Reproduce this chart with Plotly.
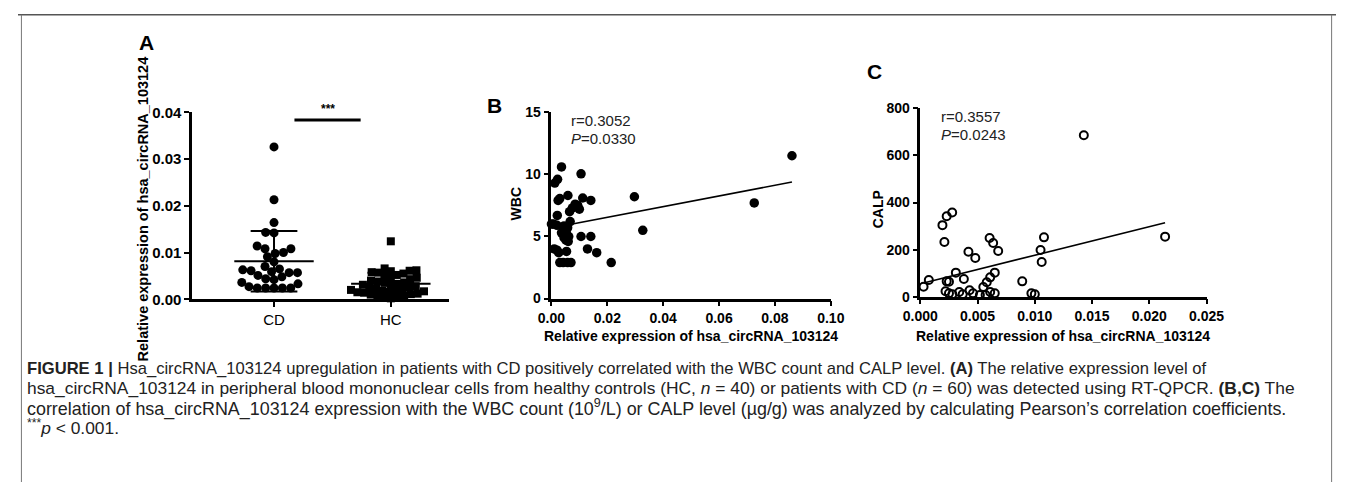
import numpy as np
import plotly.graph_objects as go

W, H = 1354, 490

# ---------------- data ----------------
group_labels = ["CD", "HC"]
cd_values = [0.0326, 0.0213, 0.0164, 0.0142, 0.0143, 0.0108, 0.0098, 0.0108, 0.0114,
             0.0091, 0.0100, 0.0080, 0.0070, 0.0063, 0.0059, 0.0057, 0.0051, 0.0057,
             0.0061, 0.0065, 0.0044, 0.0048, 0.0036, 0.0027, 0.0024, 0.0024, 0.0024,
             0.0024, 0.0024, 0.0033, 0.0042]
hc_values = [0.0124, 0.0066, 0.0062, 0.0061, 0.0060, 0.0058, 0.0057, 0.0055, 0.0052,
             0.0050, 0.0046, 0.0045, 0.0043, 0.0040, 0.0038, 0.0036, 0.0035, 0.0033,
             0.0031, 0.0030, 0.0028, 0.0026, 0.0025, 0.0023, 0.0022, 0.0020, 0.0019,
             0.0018, 0.0017, 0.0016, 0.0015, 0.0014, 0.0012, 0.0011, 0.0010, 0.0008,
             0.0007, 0.0005, 0.0004, 0.0002]

wbc_expr = [0.0036, 0.0012, 0.0022, 0.0106, 0.0059, 0.0024, 0.0030, 0.0112, 0.0141,
            0.0094, 0.0085, 0.0075, 0.0065, 0.0021, 0.0100, 0.0000, 0.0008, 0.0020,
            0.0045, 0.0067, 0.0058, 0.0048, 0.0036, 0.0054, 0.0106, 0.0141, 0.0045,
            0.0062, 0.0052, 0.0060, 0.0054, 0.0129, 0.0162, 0.0010, 0.0026, 0.0020,
            0.0214, 0.0030, 0.0042, 0.0058, 0.0070, 0.0297, 0.0327, 0.0726, 0.0861]
wbc_count = [10.6, 9.3, 9.6, 10.05, 8.3, 7.9, 8.05, 8.1, 7.9,
             7.5, 7.6, 7.3, 7.0, 6.7, 7.2, 6.0, 6.0, 5.9,
             5.85, 6.2, 5.7, 5.6, 5.3, 5.2, 5.0, 5.0, 4.9,
             5.0, 4.7, 4.6, 3.8, 4.0, 3.7, 4.0, 3.7, 3.9,
             2.9, 2.9, 2.9, 2.9, 2.9, 8.2, 5.5, 7.7, 11.5]
wbc_fit = {"slope": 43.0, "intercept": 5.68}
wbc_stats = ["r=0.3052", "<i>P</i>=0.0330"]

calp_expr = [0.01428, 0.00193, 0.0023, 0.00278, 0.0021, 0.00605, 0.00636, 0.0068,
             0.0042, 0.0048, 0.0108, 0.0105, 0.0106, 0.02138, 0.00074, 0.00028,
             0.0023, 0.0025, 0.0031, 0.0038, 0.0065, 0.0061, 0.0058, 0.0055, 0.0089,
             0.0022, 0.0025, 0.0034, 0.0043, 0.0046, 0.0052, 0.0057, 0.0061, 0.0065,
             0.0097, 0.0100, 0.0028, 0.0037]
calp_level = [686, 304, 342, 358, 232, 249, 228, 194,
              191, 164, 252, 198, 147, 255, 71, 42,
              65, 63, 102, 75, 102, 82, 61, 41, 65,
              23, 14, 20, 27, 14, 7, 7, 20, 14,
              14, 10, 10, 10]
calp_fit = {"slope": 12100.0, "intercept": 55.0}
calp_stats = ["r=0.3557", "<i>P</i>=0.0243"]

axis_title = "Relative expression of hsa_circRNA_103124"
caption_lines = [
    "<b>FIGURE 1 |</b> Hsa_circRNA_103124 upregulation in patients with CD positively correlated with the WBC count and CALP level. <b>(A)</b> The relative expression level of",
    "hsa_circRNA_103124 in peripheral blood mononuclear cells from healthy controls (HC, <i>n</i> = 40) or patients with CD (<i>n</i> = 60) was detected using RT-QPCR. <b>(B,C)</b> The",
    "correlation of hsa_circRNA_103124 expression with the WBC count (10<sup>9</sup>/L) or CALP level (µg/g) was analyzed by calculating Pearson\u2019s correlation coefficients.",
    "<sup>***</sup><i>p</i> &lt; 0.001.",
]
caption_sizes = [16.6, 17.4, 17.9, 17.4]

# ---------------- layout helpers ----------------
def px(x):
    return x / W


def py(y):
    return 1 - y / H


FONT = "Liberation Sans, Arial, sans-serif"
BLACK = "#000000"

A_X0, A_X1, A_Y0, A_Y1 = 179, 443, 300.7, 107
A_XR = [-0.7, 1.5]
A_YR = [0, 0.04]
A_PX_PER_X = (A_X1 - A_X0) / (A_XR[1] - A_XR[0])
A_PX_PER_Y = (A_Y0 - A_Y1) / (A_YR[1] - A_YR[0])


def swarm_offsets(values, d):
    """Beeswarm horizontal offsets (px) so markers of diameter d don't overlap."""
    vals = np.asarray(values) * A_PX_PER_Y
    order = np.argsort(vals, kind="stable")
    placed = []
    offs = np.zeros(len(vals))
    for i in order:
        y = vals[i]
        cands = [0.0]
        for (ox, oy) in placed:
            dy = y - oy
            if abs(dy) < d:
                dx = np.sqrt(d * d - dy * dy)
                cands += [ox + dx, ox - dx]
        cands.sort(key=lambda c: (abs(c), c))
        best = 0.0
        for c in cands:
            if all((c - ox) ** 2 + (y - oy) ** 2 >= d * d - 1e-6 for ox, oy in placed):
                best = c
                break
        placed.append((best, y))
        offs[i] = best
    return offs


fig = go.Figure()

# ---------------- panel A ----------------
groups = [(0, cd_values, "circle", 8.6), (1, hc_values, "square", 7.0)]
for gi, vals, sym, dd in groups:
    offs = swarm_offsets(vals, dd) / A_PX_PER_X
    fig.add_trace(go.Scatter(
        x=gi + offs, y=vals, mode="markers", xaxis="x", yaxis="y",
        marker=dict(symbol=sym, size=9 if sym == "circle" else 8, color=BLACK,
                    line=dict(width=0)),
        cliponaxis=False, showlegend=False, hoverinfo="skip"))
    m = float(np.mean(vals))
    s = float(np.std(vals, ddof=1))
    lo = max(m - s, 0)
    fig.add_trace(go.Scatter(x=[gi - 0.34, gi + 0.34], y=[m, m], mode="lines",
                             xaxis="x", yaxis="y", line=dict(color=BLACK, width=2),
                             showlegend=False, hoverinfo="skip", cliponaxis=False))
    fig.add_trace(go.Scatter(
        x=[gi - 0.2, gi + 0.2, None, gi, gi, None, gi - 0.2, gi + 0.2],
        y=[m + s, m + s, None, m + s, lo, None, lo, lo], mode="lines",
        xaxis="x", yaxis="y", line=dict(color=BLACK, width=2),
        showlegend=False, hoverinfo="skip", cliponaxis=False))

# ---------------- panel B ----------------
fig.add_trace(go.Scatter(x=wbc_expr, y=wbc_count, mode="markers", xaxis="x2", yaxis="y2",
                         marker=dict(symbol="circle", size=9.5, color=BLACK),
                         cliponaxis=False, showlegend=False, hoverinfo="skip"))
bx = [min(wbc_expr), max(wbc_expr)]
fig.add_trace(go.Scatter(x=bx, y=[wbc_fit["intercept"] + wbc_fit["slope"] * v for v in bx],
                         mode="lines", xaxis="x2", yaxis="y2",
                         line=dict(color=BLACK, width=1.6), showlegend=False, hoverinfo="skip"))

# ---------------- panel C ----------------
fig.add_trace(go.Scatter(x=calp_expr, y=calp_level, mode="markers", xaxis="x3", yaxis="y3",
                         marker=dict(symbol="circle-open", size=8, color=BLACK,
                                     line=dict(width=2, color=BLACK)),
                         cliponaxis=False, showlegend=False, hoverinfo="skip"))
cx = [min(calp_expr), max(calp_expr)]
fig.add_trace(go.Scatter(x=cx, y=[calp_fit["intercept"] + calp_fit["slope"] * v for v in cx],
                         mode="lines", xaxis="x3", yaxis="y3",
                         line=dict(color=BLACK, width=1.6), showlegend=False, hoverinfo="skip"))

tickfont = dict(family=FONT, size=14, color=BLACK, weight=700)
common = dict(showline=True, linecolor=BLACK, linewidth=2.6, ticks="outside",
              ticklen=5, tickwidth=2.2, tickcolor=BLACK, showgrid=False,
              zeroline=False, tickfont=tickfont, fixedrange=True)

fig.update_layout(
    width=W, height=H, margin=dict(l=0, r=0, t=0, b=0),
    paper_bgcolor="white", plot_bgcolor="white",
    font=dict(family=FONT, color=BLACK),
    xaxis=dict(domain=[px(A_X0), px(A_X1)], range=A_XR, anchor="y",
               tickvals=[0, 1], ticktext=group_labels,
               **{**common, "tickfont": dict(family=FONT, size=15, color=BLACK)}),
    yaxis=dict(domain=[py(A_Y0), py(A_Y1)], range=A_YR, anchor="x",
               tickvals=[0, 0.01, 0.02, 0.03, 0.04], tickformat=".2f",
               **{**common, "tickfont": dict(family=FONT, size=15, color=BLACK, weight=700)}),
    xaxis2=dict(domain=[px(548), px(835)], range=[0, 0.1], anchor="y2",
                tickvals=[0, 0.02, 0.04, 0.06, 0.08, 0.10], tickformat=".2f", **common),
    yaxis2=dict(domain=[py(300), py(107)], range=[0, 15], anchor="x2",
                tickvals=[0, 5, 10, 15], **common),
    xaxis3=dict(domain=[px(927), px(1221)], range=[0, 0.025], anchor="y3",
                tickvals=[0, 0.005, 0.01, 0.015, 0.02, 0.025], tickformat=".3f", **common),
    yaxis3=dict(domain=[py(298), py(103)], range=[0, 800], anchor="x3",
                tickvals=[0, 200, 400, 600, 800], **common),
)

ann = []
titlefont = dict(family=FONT, size=14, color=BLACK, weight=700)
ann.append(dict(text=axis_title, x=px(128), y=py(207), textangle=-90,
                font=dict(family=FONT, size=14.5, color=BLACK, weight=700)))
ann.append(dict(text=axis_title, x=px(691), y=py(339), font=titlefont))
ann.append(dict(text=axis_title, x=px(1074), y=py(339), font=titlefont))
ann.append(dict(text="WBC", x=px(512), y=py(202), textangle=-90, font=titlefont))
ann.append(dict(text="CALP", x=px(883), y=py(208), textangle=-90, font=titlefont))
for letter, lx, ly in [("A", 132, 35), ("B", 490, 100), ("C", 880, 65)]:
    ann.append(dict(text=letter, x=px(lx), y=py(ly),
                    font=dict(family=FONT, size=21, color=BLACK, weight=700)))
statfont = dict(family=FONT, size=15, color="#222222")
for i, t in enumerate(wbc_stats):
    ann.append(dict(text=t, x=px(566), y=py(115 + 19 * i), xanchor="left", font=statfont))
for i, t in enumerate(calp_stats):
    ann.append(dict(text=t, x=px(946), y=py(111 + 19 * i), xanchor="left", font=statfont))
ann.append(dict(text="***", x=px(318), y=py(104),
                font=dict(family=FONT, size=12, color=BLACK, weight=700)))
for i, line in enumerate(caption_lines):
    ann.append(dict(text=line, x=px(7), y=py(372 + 20.5 * i), xanchor="left",
                    font=dict(family=FONT, size=caption_sizes[i], color="#222222")))

for a in ann:
    a.setdefault("xref", "paper")
    a.setdefault("yref", "paper")
    a.setdefault("showarrow", False)
    a.setdefault("xanchor", "center")
    a.setdefault("yanchor", "middle")
fig.update_layout(annotations=ann)

shapes = [
    # significance bar
    dict(type="line", xref="paper", yref="paper", x0=px(284), x1=px(352), y0=py(115), y1=py(115),
         line=dict(color=BLACK, width=3)),
    # figure frame
    dict(type="line", xref="paper", yref="paper", x0=0, x1=1, y0=py(6), y1=py(6),
         line=dict(color="#555555", width=1.5)),
    dict(type="line", xref="paper", yref="paper", x0=px(3.5), x1=px(3.5), y0=py(6), y1=0,
         line=dict(color="#777777", width=1)),
    dict(type="line", xref="paper", yref="paper", x0=px(1349.5), x1=px(1349.5), y0=py(6), y1=0,
         line=dict(color="#777777", width=1)),
]
fig.update_layout(shapes=shapes)

fig.write_html(
    "out.html",
    config={"displayModeBar": False},
    post_script="document.body.style.margin='0px';document.body.style.padding='0px';"
                "document.body.style.overflow='hidden';"
                "document.documentElement.style.overflow='hidden';",
)
